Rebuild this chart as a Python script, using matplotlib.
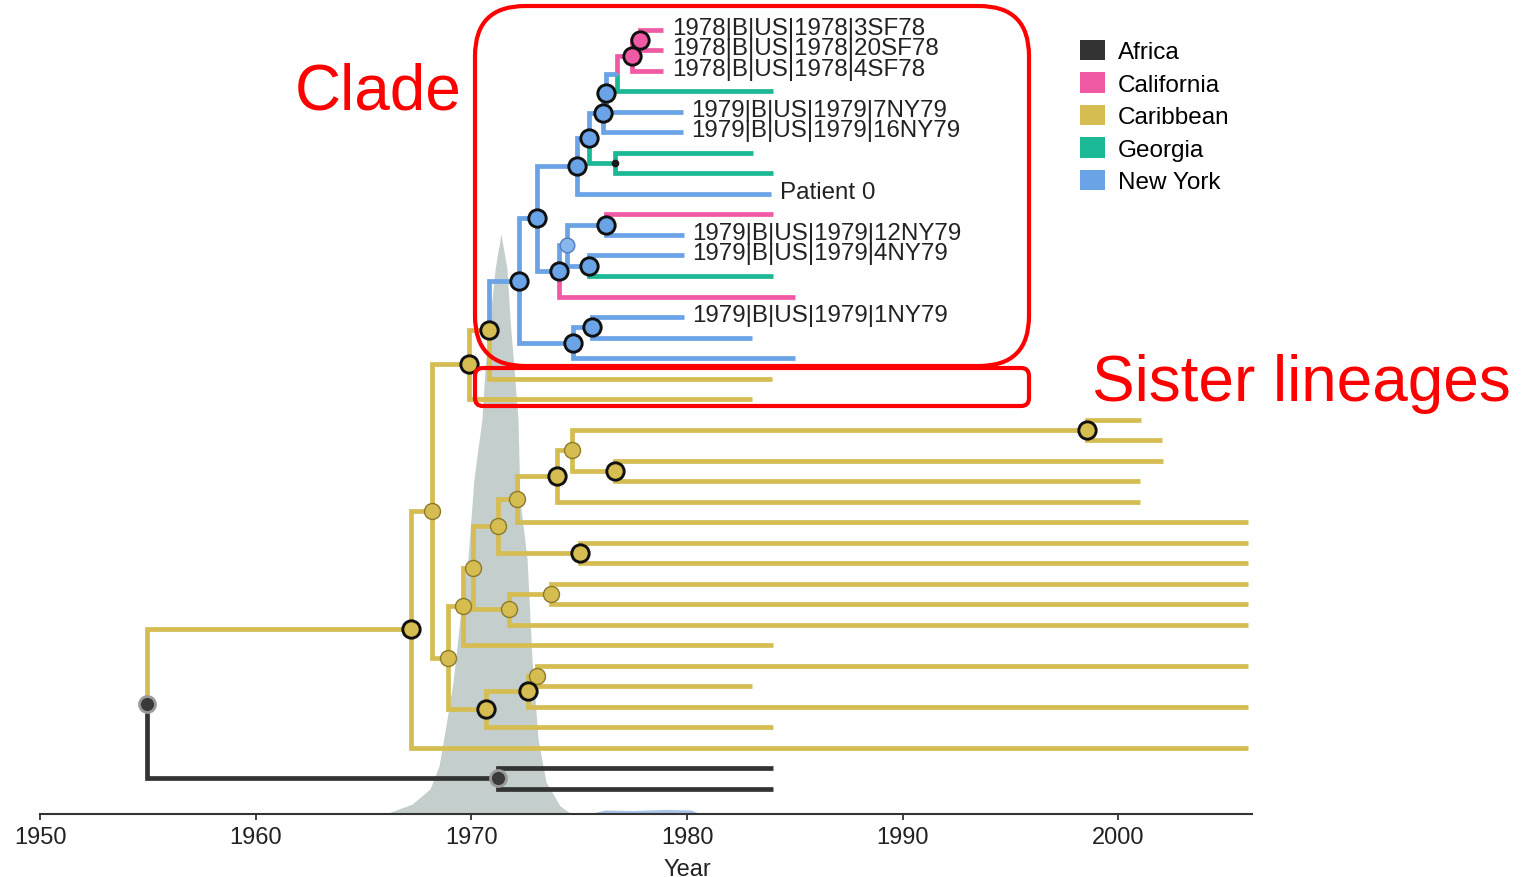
import matplotlib
matplotlib.use("Agg")
import matplotlib.pyplot as plt
from matplotlib.patches import Patch, FancyBboxPatch

plt.rcParams['font.family'] = ['Liberation Sans', 'DejaVu Sans']

# tips, top to bottom (row = index)
tip_labels = ["1978|B|US|1978|3SF78", "1978|B|US|1978|20SF78", "1978|B|US|1978|4SF78", "",
              "1979|B|US|1979|7NY79", "1979|B|US|1979|16NY79", "", "", "Patient 0", "",
              "1979|B|US|1979|12NY79", "1979|B|US|1979|4NY79", "", "", "1979|B|US|1979|1NY79",
              "", "", "", "", "", "", "", "", "", "", "", "", "", "", "", "", "", "", "", "",
              "", "", ""]
tip_dates = [1978.9, 1978.9, 1978.9, 1984.0, 1979.8, 1979.8, 1983.05, 1984.0, 1983.9, 1984.0,
             1979.85, 1979.85, 1984.0, 1985.0, 1979.85, 1983.0, 1985.0, 1983.95, 1983.0,
             2001.05, 2002.0, 2002.05, 2001.0, 2001.0, 2006.0, 2006.0, 2006.0, 2006.0, 2006.0,
             2006.0, 1984.0, 2006.0, 1983.0, 2006.0, 1984.0, 2006.0, 1984.0, 1984.0]
tip_regions = ["California"] * 3 + ["Georgia", "New York", "New York", "Georgia", "Georgia",
               "New York", "California", "New York", "New York", "Georgia", "California",
               "New York", "New York", "New York"] + ["Caribbean"] * 19 + ["Africa"] * 2

# internal nodes, children listed before parents
node_ids = ["A", "B", "C", "D", "E", "G", "F", "H", "I", "J", "K", "L", "M", "N", "O", "P",
            "Q", "R", "c1", "c2", "c3", "c4", "c5", "c6", "c7", "X", "Y", "W", "U", "c8", "c9",
            "V", "T", "S", "Z", "AF", "root"]
node_kids = [("t0", "t1"), ("A", "t2"), ("B", "t3"), ("C", "t4"), ("D", "t5"), ("t6", "t7"),
             ("E", "G"), ("F", "t8"), ("t9", "t10"), ("t11", "t12"), ("I", "J"), ("K", "t13"),
             ("H", "L"), ("t14", "t15"), ("N", "t16"), ("M", "O"), ("P", "t17"), ("Q", "t18"),
             ("t19", "t20"), ("t21", "t22"), ("c1", "c2"), ("c3", "t23"), ("c4", "t24"),
             ("t25", "t26"), ("c5", "c6"), ("t27", "t28"), ("X", "t29"), ("c7", "Y"),
             ("W", "t30"), ("t31", "t32"), ("c8", "t33"), ("c9", "t34"), ("U", "V"),
             ("R", "T"), ("S", "t35"), ("t36", "t37"), ("Z", "AF")]
node_dates = [1977.82, 1977.45, 1976.75, 1976.24, 1976.1, 1976.66, 1975.45, 1974.9, 1976.24,
              1975.45, 1974.43, 1974.06, 1973.04, 1975.59, 1974.71, 1972.21, 1970.82, 1969.89,
              1998.54, 1976.66, 1974.66, 1973.97, 1972.11, 1975.03, 1971.23, 1973.69, 1971.74,
              1970.07, 1969.61, 1973.04, 1972.62, 1970.68, 1968.92, 1968.17, 1967.2, 1971.23,
              1954.96]
node_regions = ["California", "California"] + ["New York"] * 3 + ["Georgia"] + ["New York"] * 10 \
    + ["Caribbean"] * 19 + ["Africa", "Africa"]
node_support = ["strong", "strong", "none", "strong", "strong", "dot", "strong", "strong", "strong",
                "strong", "weak", "strong", "strong", "strong", "strong", "strong", "strong", "strong",
                "strong", "strong", "weak", "strong", "weak", "strong", "weak", "weak", "weak",
                "weak", "weak", "weak", "strong", "strong", "weak", "weak", "strong", "grey", "grey"]

# tMRCA density (relative height)
dens_years = [1966.0, 1967.25, 1968.08, 1968.5, 1968.82, 1969.15, 1969.47, 1969.84, 1970.12,
              1970.49, 1970.63, 1970.86, 1971.1, 1971.37, 1971.65, 1971.79, 1971.98, 1972.16,
              1972.25, 1972.58, 1972.81, 1973.09, 1973.46, 1974.11, 1974.52, 1975.03]
dens_vals = [0.0, 0.017, 0.043, 0.083, 0.152, 0.228, 0.336, 0.44, 0.578, 0.681, 0.767, 0.853,
             0.94, 1.0, 0.94, 0.853, 0.767, 0.681, 0.543, 0.44, 0.267, 0.129, 0.055, 0.014,
             0.003, 0.0]
tail_years = [1975.4, 1976.2, 1977.5, 1979.0, 1980.2, 1980.6]
tail_vals = [0.0, 0.007, 0.006, 0.008, 0.007, 0.0]

regions = ["Africa", "California", "Caribbean", "Georgia", "New York"]
region_colors = ["#333333", "#f05aa5", "#d5bd52", "#1ab894", "#6aa3e6"]
cmap = dict(zip(regions, region_colors))

W, H = 1526, 878
fig = plt.figure(figsize=(W / 100, H / 100), dpi=100)
ax_d = fig.add_axes([40 / W, 63 / H, 1212 / W, 815 / H])
ax_d.set_xlim(1950, 2006.19)
ax_d.set_ylim(0, 815 / 580)
ax_d.fill_between(dens_years, dens_vals, color="#c3cecd", lw=0)
ax_d.fill_between(tail_years, tail_vals, color="#a9c4e6", lw=0)
for s in ["top", "left", "right"]:
    ax_d.spines[s].set_visible(False)
ax_d.spines["bottom"].set_color("#333333")
ax_d.spines["bottom"].set_linewidth(1.5)
ax_d.set_yticks([])
ax_d.set_xticks(range(1950, 2001, 10))
ax_d.tick_params(axis="x", length=4.5, width=1.3, color="#333333", labelsize=17,
                 labelcolor="#222222", pad=4)
ax_d.set_xlabel("Year", fontsize=17, color="#222222", labelpad=7, x=30 / 56.19)

ax_t = ax_d.twinx()
ax_t.patch.set_visible(False)
ax_t.set_ylim(38.24, -1.51)
ax_t.axis("off")

# positions
px, py, pc = {}, {}, {}
for i in range(len(tip_labels)):
    k = "t%d" % i
    px[k], py[k], pc[k] = tip_dates[i], i, cmap[tip_regions[i]]
for k, kids, d, r in zip(node_ids, node_kids, node_dates, node_regions):
    px[k] = d
    py[k] = sum(py[c] for c in kids) / len(kids)
    pc[k] = cmap[r]

# branches: elbow from parent to each child, in the child's colour
for k, kids in zip(node_ids, node_kids):
    for c in kids:
        ax_t.plot([px[k], px[k], px[c]], [py[k], py[c], py[c]], color=pc[c], lw=3.4,
                  solid_capstyle="butt", solid_joinstyle="miter", zorder=2)

# node markers
for k, r, s in zip(node_ids, node_regions, node_support):
    if s == "strong":
        ax_t.plot(px[k], py[k], "o", ms=12.5, mfc=cmap[r], mec="#111111", mew=2.1, zorder=4)
    elif s == "weak":
        if r == "New York":
            ax_t.plot(px[k], py[k], "o", ms=10.5, mfc="#8ab6ee", mec="#4f7fc0", mew=1.0, zorder=4)
        else:
            ax_t.plot(px[k], py[k], "o", ms=11.5, mfc=cmap[r], mec="#8c7a2a", mew=1.0, zorder=4)
    elif s == "dot":
        ax_t.plot(px[k], py[k], "o", ms=4.5, mfc="#1a1a1a", mec="#1a1a1a", zorder=4)
    elif s == "grey":
        ax_t.plot(px[k], py[k], "o", ms=11.5, mfc="#3a3a3a", mec="#9a9a9a", mew=2.0, zorder=4)

for i, lab in enumerate(tip_labels):
    if lab:
        ax_t.text(tip_dates[i] + 0.4, i - 0.1, lab, va="center", ha="left", fontsize=17.4,
                  color="#222222", zorder=5)

handles = [Patch(facecolor=c, edgecolor="none", label=r) for r, c in zip(regions, region_colors)]
ax_t.legend(handles=handles, loc="upper left", bbox_to_anchor=(1080 / W, 1 - 41 / H),
            bbox_transform=fig.transFigure, frameon=False, fontsize=17.5, handlelength=1.03,
            handleheight=0.9, labelspacing=0.37, handletextpad=0.53, borderpad=0,
            borderaxespad=0)

# red annotations (inches)
box1 = FancyBboxPatch((4.75, 5.11), 5.54, 3.60, boxstyle="round,pad=0,rounding_size=0.5",
                      transform=fig.dpi_scale_trans, fill=False, ec="#ff0000", lw=3.0)
box2 = FancyBboxPatch((4.75, 4.71), 5.54, 0.38, boxstyle="round,pad=0,rounding_size=0.08",
                      transform=fig.dpi_scale_trans, fill=False, ec="#ff0000", lw=3.0)
fig.add_artist(box1)
fig.add_artist(box2)
fig.text(378 / W, 1 - 93 / H, "Clade", color="#ff0000", fontsize=46, ha="center", va="center")
fig.text(1301 / W, 1 - 384 / H, "Sister lineages", color="#ff0000", fontsize=46,
         ha="center", va="center")

fig.savefig("out.png", dpi=100)
